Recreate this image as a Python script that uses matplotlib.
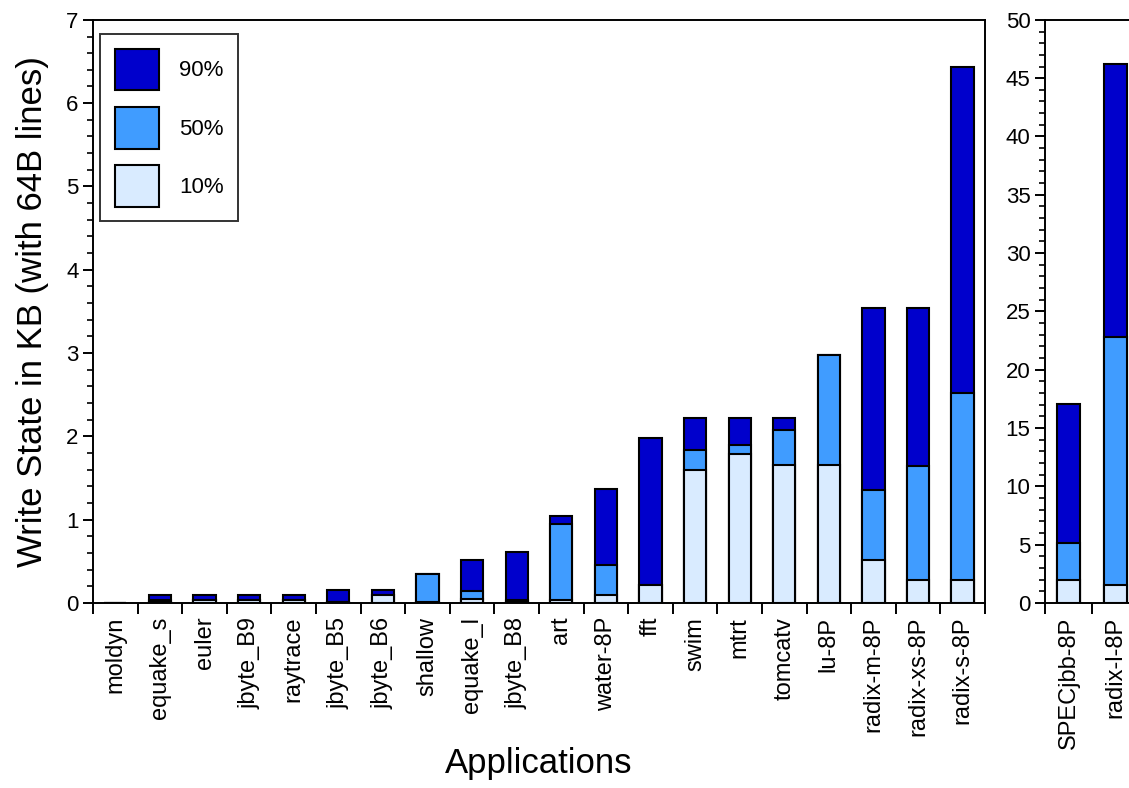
import numpy as np
import matplotlib.pyplot as plt
from matplotlib.ticker import MultipleLocator, FixedLocator

plt.rcParams["font.family"] = ["Liberation Sans", "DejaVu Sans"]

# applications on the small-scale axis
apps = ["moldyn", "equake_s", "euler", "jbyte_B9", "raytrace", "jbyte_B5",
        "jbyte_B6", "shallow", "equake_l", "jbyte_B8", "art", "water-8P",
        "fft", "swim", "mtrt", "tomcatv", "lu-8P", "radix-m-8P",
        "radix-xs-8P", "radix-s-8P"]
p10 = [0.0, 0.01, 0.04, 0.04, 0.04, 0.01, 0.09, 0.01, 0.05, 0.01, 0.04,
       0.09, 0.22, 1.60, 1.79, 1.66, 1.66, 0.52, 0.28, 0.28]
p50 = [0.0, 0.04, 0.04, 0.04, 0.04, 0.01, 0.10, 0.35, 0.14, 0.04, 0.95,
       0.46, 0.22, 1.84, 1.90, 2.08, 2.98, 1.36, 1.65, 2.52]
p90 = [0.0, 0.10, 0.10, 0.10, 0.10, 0.15, 0.16, 0.35, 0.52, 0.61, 1.04,
       1.37, 1.98, 2.22, 2.22, 2.22, 2.98, 3.54, 3.54, 6.43]

# large applications on their own axis
big_apps = ["SPECjbb-8P", "radix-l-8P"]
big_p10 = [2.0, 1.5]
big_p50 = [5.1, 22.8]
big_p90 = [17.1, 46.2]

c90 = "#0000cc"
c50 = "#409cff"
c10 = "#d9ebff"


def draw(ax, names, a10, a50, a90):
    x = np.arange(len(names)) + 0.5
    kw = dict(width=0.5, edgecolor="black", linewidth=1.5)
    h90 = ax.bar(x, a90, color=c90, **kw)
    h50 = ax.bar(x, a50, color=c50, **kw)
    h10 = ax.bar(x, a10, color=c10, **kw)
    ax.set_xlim(0, len(names))
    ax.xaxis.set_major_locator(FixedLocator(np.arange(len(names) + 1)))
    ax.xaxis.set_major_formatter(plt.NullFormatter())
    ax.xaxis.set_minor_locator(FixedLocator(x))
    ax.set_xticklabels(names, minor=True, rotation=90, fontsize=17)
    ax.tick_params(axis="x", which="major", direction="out", length=8, width=1.4)
    ax.tick_params(axis="x", which="minor", length=0, pad=10)
    ax.tick_params(axis="y", which="major", direction="out", length=7,
                   width=1.4, labelsize=16)
    ax.tick_params(axis="y", which="minor", direction="out", length=4, width=1.2)
    for s in ax.spines.values():
        s.set_linewidth(1.4)
    return h90, h50, h10


fig = plt.figure(figsize=(11.29, 7.88), dpi=100)
ax = fig.add_axes([0.0824, 0.2348, 0.790, 0.740])
ax2 = fig.add_axes([0.9256, 0.2348, 0.0833, 0.740])

h90, h50, h10 = draw(ax, apps, p10, p50, p90)
draw(ax2, big_apps, big_p10, big_p50, big_p90)

ax.set_ylim(0, 7)
ax.yaxis.set_major_locator(MultipleLocator(1))
ax.yaxis.set_minor_locator(MultipleLocator(0.2))
ax2.set_ylim(0, 50)
ax2.yaxis.set_major_locator(MultipleLocator(5))
ax2.yaxis.set_minor_locator(MultipleLocator(1))
ax2.spines["right"].set_visible(False)

ax.set_ylabel("Write State in KB (with 64B lines)", fontsize=25, labelpad=12)
ax.set_xlabel("Applications", fontsize=25, labelpad=8)

leg = ax.legend([h90, h50, h10], ["90%", "50%", "10%"], loc="upper left",
                bbox_to_anchor=(0.008, 0.975), fontsize=16, frameon=True,
                fancybox=False, handlelength=2.0, handleheight=2.5,
                labelspacing=0.75, borderpad=0.65, handletextpad=0.9,
                borderaxespad=0)
leg.get_frame().set_edgecolor("black")
leg.get_frame().set_linewidth(1.4)

fig.savefig("out.png", dpi=100)
